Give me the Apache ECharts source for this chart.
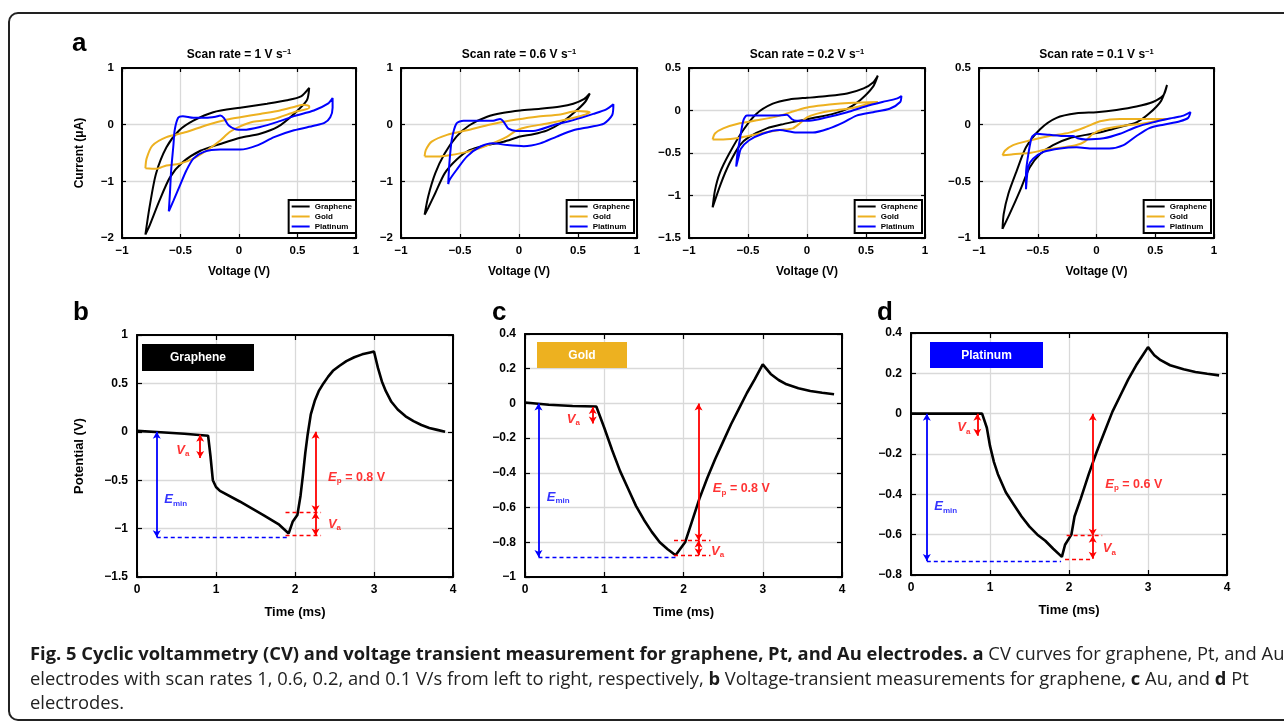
<!DOCTYPE html>
<html><head><meta charset="utf-8">
<script src="https://cdn.jsdelivr.net/npm/echarts@6/dist/echarts.min.js"></script>
<style>html,body{margin:0;padding:0;background:#fff}#c{width:1284px;height:727px}</style>
</head><body><div id="c"></div><script>
// ---------------- DATA ----------------
const seriesNames = ['Graphene', 'Gold', 'Platinum'];
const scanRates = ['1', '0.6', '0.2', '0.1'];
const cvYRanges = [[-2, 1, 1], [-2, 1, 1], [-1.5, 0.5, 0.5], [-1, 0.5, 0.5]];
const cvXRange = [-1, 1, 0.5];
const vtXRange = [0, 4, 1];
const vtYRanges = [[-1.5, 1, 0.5], [-1, 0.4, 0.2], [-0.8, 0.4, 0.2]];
const vtBoxNames = ['Graphene', 'Gold', 'Platinum'];
const epValues = ['0.8', '0.8', '0.6'];

const cv1Graphene = [[-0.8,-1.94],[-0.765,-1.46],[-0.71,-0.87],[-0.62,-0.4],[-0.51,-0.1],[-0.39,0.07],[-0.22,0.22],[0.01,0.3],[0.24,0.37],[0.41,0.43],[0.53,0.5],[0.6,0.65],[0.58,0.43],[0.47,0.19],[0.33,-0.04],[0.18,-0.16],[0.01,-0.23],[-0.16,-0.34],[-0.33,-0.46],[-0.48,-0.66],[-0.59,-0.93],[-0.68,-1.34],[-0.77,-1.81],[-0.8,-1.94]];
const cv1Gold = [[-0.8,-0.77],[-0.79,-0.6],[-0.74,-0.37],[-0.62,-0.22],[-0.45,-0.13],[-0.28,-0.01],[-0.1,0.09],[0.01,0.13],[0.18,0.19],[0.35,0.25],[0.5,0.33],[0.55,0.35],[0.6,0.33],[0.6,0.3],[0.47,0.22],[0.3,0.1],[0.12,0.05],[0.01,-0.03],[-0.08,-0.13],[-0.16,-0.28],[-0.28,-0.46],[-0.39,-0.6],[-0.51,-0.69],[-0.62,-0.72],[-0.71,-0.78],[-0.8,-0.77]];
const cv1Pt = [[-0.6,-1.53],[-0.59,-1.2],[-0.58,-0.81],[-0.56,-0.35],[-0.55,-0.1],[-0.52,0.12],[-0.48,0.15],[-0.39,0.12],[-0.28,0.12],[-0.2,0.14],[-0.16,0.16],[-0.13,0.12],[-0.09,-0.01],[-0.03,-0.08],[0.04,-0.09],[0.18,-0.04],[0.33,0.05],[0.47,0.15],[0.64,0.25],[0.76,0.37],[0.8,0.47],[0.8,0.3],[0.78,0.13],[0.73,0.03],[0.64,-0.02],[0.47,-0.1],[0.3,-0.22],[0.15,-0.37],[0.01,-0.44],[-0.16,-0.44],[-0.3,-0.48],[-0.39,-0.6],[-0.45,-0.81],[-0.5,-1.05],[-0.56,-1.34],[-0.6,-1.53]];

const cv2Graphene = [[-0.8,-1.59],[-0.77,-1.27],[-0.71,-0.86],[-0.63,-0.51],[-0.53,-0.21],[-0.42,-0.01],[-0.27,0.14],[-0.13,0.21],[0.01,0.25],[0.18,0.28],[0.35,0.32],[0.46,0.37],[0.55,0.45],[0.6,0.55],[0.56,0.4],[0.46,0.2],[0.35,0.02],[0.24,-0.1],[0.12,-0.17],[0.01,-0.21],[-0.13,-0.3],[-0.27,-0.36],[-0.42,-0.45],[-0.53,-0.62],[-0.63,-0.86],[-0.71,-1.21],[-0.77,-1.47],[-0.8,-1.59]];
const cv2Gold = [[-0.8,-0.56],[-0.79,-0.45],[-0.74,-0.3],[-0.61,-0.18],[-0.44,-0.1],[-0.27,-0.01],[-0.13,0.05],[-0.02,0.09],[0.15,0.14],[0.35,0.18],[0.49,0.24],[0.6,0.22],[0.55,0.17],[0.4,0.09],[0.24,0.02],[0.07,-0.04],[-0.02,-0.1],[-0.1,-0.21],[-0.19,-0.3],[-0.3,-0.39],[-0.44,-0.48],[-0.59,-0.54],[-0.67,-0.56],[-0.8,-0.56]];
const cv2Pt = [[-0.6,-1.05],[-0.59,-0.68],[-0.57,-0.27],[-0.53,0.02],[-0.47,0.07],[-0.33,0.07],[-0.22,0.07],[-0.16,0.1],[-0.13,0.05],[-0.09,-0.07],[-0.02,-0.11],[0.12,-0.11],[0.29,-0.01],[0.46,0.08],[0.63,0.19],[0.74,0.27],[0.8,0.36],[0.79,0.17],[0.72,0.02],[0.6,-0.04],[0.46,-0.1],[0.32,-0.21],[0.18,-0.33],[0.04,-0.38],[-0.1,-0.36],[-0.22,-0.33],[-0.33,-0.39],[-0.44,-0.56],[-0.53,-0.8],[-0.59,-0.98],[-0.6,-1.05]];

const cv3Graphene = [[-0.8,-1.14],[-0.78,-0.94],[-0.74,-0.74],[-0.66,-0.51],[-0.54,-0.23],[-0.43,-0.04],[-0.29,0.08],[-0.15,0.13],[0,0.15],[0.17,0.17],[0.34,0.2],[0.48,0.26],[0.56,0.33],[0.6,0.41],[0.56,0.28],[0.45,0.12],[0.34,0.02],[0.22,-0.04],[0.08,-0.08],[-0.06,-0.12],[-0.2,-0.16],[-0.34,-0.21],[-0.49,-0.31],[-0.57,-0.41],[-0.66,-0.63],[-0.73,-0.86],[-0.8,-1.14]];
const cv3Gold = [[-0.8,-0.34],[-0.78,-0.27],[-0.71,-0.21],[-0.57,-0.15],[-0.4,-0.11],[-0.23,-0.06],[-0.09,0],[0.02,0.04],[0.19,0.07],[0.39,0.09],[0.6,0.1],[0.53,0.08],[0.39,0.03],[0.22,0],[0.08,-0.04],[0,-0.08],[-0.06,-0.15],[-0.12,-0.21],[-0.23,-0.23],[-0.4,-0.27],[-0.57,-0.32],[-0.71,-0.34],[-0.8,-0.34]];
const cv3Pt = [[-0.6,-0.66],[-0.59,-0.51],[-0.57,-0.35],[-0.54,-0.12],[-0.51,-0.06],[-0.4,-0.06],[-0.26,-0.06],[-0.17,-0.05],[-0.13,-0.1],[-0.09,-0.12],[0.02,-0.12],[0.17,-0.08],[0.34,-0.02],[0.5,0.05],[0.67,0.11],[0.76,0.14],[0.8,0.17],[0.79,0.1],[0.7,0.02],[0.56,-0.02],[0.42,-0.06],[0.31,-0.14],[0.19,-0.21],[0.05,-0.26],[-0.09,-0.26],[-0.23,-0.23],[-0.37,-0.27],[-0.49,-0.35],[-0.56,-0.45],[-0.58,-0.55],[-0.6,-0.66]];

const cv4Graphene = [[-0.8,-0.92],[-0.79,-0.79],[-0.75,-0.61],[-0.68,-0.41],[-0.6,-0.2],[-0.48,-0.04],[-0.34,0.06],[-0.17,0.1],[0,0.11],[0.17,0.13],[0.34,0.16],[0.48,0.2],[0.57,0.26],[0.6,0.35],[0.55,0.21],[0.45,0.1],[0.34,0.02],[0.2,-0.02],[0.06,-0.06],[-0.09,-0.09],[-0.23,-0.12],[-0.37,-0.18],[-0.48,-0.26],[-0.57,-0.38],[-0.65,-0.58],[-0.74,-0.79],[-0.8,-0.92]];
const cv4Gold = [[-0.8,-0.27],[-0.78,-0.23],[-0.71,-0.18],[-0.57,-0.14],[-0.4,-0.1],[-0.23,-0.07],[-0.09,-0.02],[0.03,0.03],[0.2,0.05],[0.4,0.05],[0.6,0.05],[0.54,0.04],[0.4,0.01],[0.23,-0.01],[0.06,-0.04],[-0.03,-0.08],[-0.1,-0.15],[-0.17,-0.18],[-0.28,-0.2],[-0.43,-0.22],[-0.57,-0.25],[-0.71,-0.26],[-0.8,-0.27]];
const cv4Pt = [[-0.6,-0.57],[-0.6,-0.43],[-0.58,-0.26],[-0.55,-0.11],[-0.51,-0.08],[-0.4,-0.09],[-0.26,-0.1],[-0.2,-0.1],[-0.16,-0.12],[-0.09,-0.13],[0.06,-0.12],[0.2,-0.08],[0.34,-0.02],[0.48,0.02],[0.65,0.06],[0.74,0.08],[0.8,0.11],[0.78,0.06],[0.71,0.03],[0.57,0],[0.45,-0.03],[0.34,-0.1],[0.23,-0.18],[0.11,-0.21],[-0.03,-0.21],[-0.17,-0.2],[-0.31,-0.21],[-0.45,-0.24],[-0.54,-0.3],[-0.58,-0.37],[-0.6,-0.57]];

const vtGraphene = [[0,0.01],[0.3,-0.005],[0.6,-0.02],[0.9,-0.04],[0.93,-0.25],[0.96,-0.5],[1.0,-0.57],[1.05,-0.61],[1.3,-0.72],[1.6,-0.86],[1.8,-0.96],[1.92,-1.05],[1.97,-0.93],[2.03,-0.86],[2.07,-0.66],[2.1,-0.45],[2.13,-0.22],[2.16,-0.03],[2.2,0.18],[2.25,0.32],[2.3,0.42],[2.36,0.5],[2.42,0.57],[2.48,0.63],[2.56,0.68],[2.65,0.73],[2.75,0.77],[2.85,0.8],[2.95,0.82],[3.0,0.83],[3.05,0.66],[3.1,0.52],[3.15,0.42],[3.22,0.31],[3.3,0.23],[3.4,0.16],[3.5,0.11],[3.6,0.07],[3.7,0.04],[3.8,0.02],[3.9,0.0]];
const vtGold = [[0,0.005],[0.3,-0.008],[0.6,-0.015],[0.9,-0.018],[1.0,-0.14],[1.1,-0.27],[1.2,-0.39],[1.3,-0.49],[1.4,-0.59],[1.5,-0.67],[1.6,-0.74],[1.7,-0.8],[1.8,-0.84],[1.9,-0.875],[2.02,-0.8],[2.1,-0.69],[2.2,-0.55],[2.3,-0.43],[2.4,-0.32],[2.5,-0.22],[2.6,-0.12],[2.7,-0.03],[2.8,0.06],[2.9,0.14],[3.0,0.225],[3.1,0.17],[3.2,0.135],[3.3,0.11],[3.45,0.088],[3.6,0.072],[3.75,0.062],[3.9,0.053]];
const vtPt = [[0,0],[0.9,0],[0.92,0],[0.96,-0.07],[1.0,-0.16],[1.05,-0.24],[1.1,-0.3],[1.2,-0.39],[1.3,-0.45],[1.4,-0.51],[1.5,-0.56],[1.6,-0.6],[1.7,-0.63],[1.8,-0.67],[1.91,-0.71],[1.95,-0.65],[2.03,-0.6],[2.07,-0.51],[2.15,-0.42],[2.25,-0.3],[2.35,-0.19],[2.45,-0.09],[2.55,0.01],[2.65,0.09],[2.75,0.17],[2.85,0.24],[2.95,0.3],[3.0,0.33],[3.08,0.29],[3.16,0.265],[3.28,0.24],[3.45,0.22],[3.6,0.207],[3.75,0.198],[3.9,0.19]];

// annotation values: arrows [t, from, to] (first = E_min, then V_a, E_p, V_a)
const bArrows = [[0.25,0,-1.09],[0.8,-0.03,-0.27],[2.26,0,-0.83],[2.26,-0.83,-1.07]];
const bDashes = [[0.25,1.92,-1.09],[1.88,2.33,-0.83],[1.88,2.33,-1.07]];
const bLabels = [[0.58,-0.19],[0.49,-0.70],[2.78,-0.47],[2.5,-0.955]];
const cArrows = [[0.17,0,-0.885],[0.855,-0.02,-0.115],[2.19,0,-0.79],[2.19,-0.79,-0.875]];
const cDashes = [[0.17,1.9,-0.885],[1.88,2.34,-0.79],[1.88,2.34,-0.875]];
const cLabels = [[0.61,-0.09],[0.42,-0.54],[2.73,-0.49],[2.43,-0.85]];
const dArrows = [[0.2,0,-0.73],[0.84,0,-0.11],[2.3,0,-0.605],[2.3,-0.605,-0.72]];
const dDashes = [[0.2,1.9,-0.73],[1.97,2.42,-0.605],[1.95,2.29,-0.72]];
const dLabels = [[0.67,-0.07],[0.44,-0.46],[2.82,-0.35],[2.51,-0.67]];

// ---------------- STYLE / LAYOUT ----------------
const FONT = '"Liberation Sans", Arial, Helvetica, sans-serif';
const CAPF = '"Open Sans", sans-serif';
const COLORS = ['#000000', '#EDB120', '#0000FF'];
const RED = '#FF0000', BLUE = '#0000FF';
const boxColors = ['#000000', '#EDB120', '#0000FF'];

const cvGrids = [
  {left:122, top:68, width:234, height:170},
  {left:401, top:68, width:236, height:170},
  {left:689, top:68, width:236, height:170},
  {left:979, top:68, width:235, height:170}
];
const vtGrids = [
  {left:137, top:335, width:316, height:242},
  {left:525, top:334, width:317, height:243},
  {left:911, top:333, width:316, height:242}
];
const legendRight = [356, 634, 922, 1211];
const vtBoxes = [[142,344,112,27],[537,342,90,26],[930,342,113,26]];

function fmt(v) {
  const r = Math.round(v * 1000) / 1000;
  return r < 0 ? '\u2212' + Math.abs(r) : String(r);
}

const xAxes = [], yAxes = [];
function addAxes(gi, xr, yr, opt) {
  const mk = (dim, r, main) => {
    const a = {
      gridIndex: gi, type: 'value', min: r[0], max: r[1], interval: r[2],
      position: dim === 'x' ? (main ? 'bottom' : 'top') : (main ? 'left' : 'right'),
      axisLine: {show: true, onZero: false, lineStyle: {color: '#000', width: 2}},
      axisTick: {show: true, inside: true, length: opt.tick, lineStyle: {color: '#000', width: 1.2}},
      axisLabel: {show: main, formatter: fmt, color: '#000', fontFamily: FONT, fontWeight: 'bold',
        fontSize: opt.fs, margin: dim === 'x' ? opt.xm : opt.ym, showMinLabel: true, showMaxLabel: true},
      splitLine: {show: main, lineStyle: {color: '#d9d9d9', width: 1.3}}
    };
    if (main) {
      const nm = dim === 'x' ? opt.xName : opt.yName;
      if (nm) {
        a.name = nm; a.nameLocation = 'middle';
        a.nameGap = dim === 'x' ? opt.xGap : opt.yGap;
        a.nameTextStyle = {color: '#000', fontFamily: FONT, fontWeight: 'bold', fontSize: opt.nfs};
        if (dim === 'y') a.nameRotate = 90;
      }
    }
    return a;
  };
  xAxes.push(mk('x', xr, true)); xAxes.push(mk('x', xr, false));
  yAxes.push(mk('y', yr, true)); yAxes.push(mk('y', yr, false));
}

const grids = [];
cvGrids.forEach((g, i) => {
  grids.push(Object.assign({containLabel: false}, g));
  addAxes(i, cvXRange, cvYRanges[i], {tick: 4, fs: 11.5, xm: 7, ym: 8, xName: 'Voltage (V)', xGap: 28,
    yName: i === 0 ? 'Current (\u03bcA)' : '', yGap: 36, nfs: 12});
});
vtGrids.forEach((g, i) => {
  grids.push(Object.assign({containLabel: false}, g));
  addAxes(4 + i, vtXRange, vtYRanges[i], {tick: 5, fs: 12, xm: 7, ym: 9, xName: 'Time (ms)', xGap: 29,
    yName: i === 0 ? 'Potential (V)' : '', yGap: 51, nfs: 13});
});

const series = [];
const cvSets = [[cv1Graphene, cv1Gold, cv1Pt], [cv2Graphene, cv2Gold, cv2Pt], [cv3Graphene, cv3Gold, cv3Pt], [cv4Graphene, cv4Gold, cv4Pt]];
cvSets.forEach((set, gi) => {
  set.forEach((d, k) => {
    series.push({type: 'line', name: seriesNames[k], xAxisIndex: 2 * gi, yAxisIndex: 2 * gi, data: d,
      symbol: 'none', showSymbol: false, smooth: 0.25, silent: true,
      lineStyle: {color: COLORS[k], width: 2}, itemStyle: {color: COLORS[k]}, z: 3});
  });
});

const RICH = {
  ri: {color: RED, fontStyle: 'italic', fontWeight: 'bold', fontSize: 13, fontFamily: FONT, lineHeight: 16},
  rs: {color: RED, fontWeight: 'bold', fontSize: 8, fontFamily: FONT, lineHeight: 9, verticalAlign: 'bottom'},
  rn: {color: RED, fontWeight: 'bold', fontSize: 12.5, fontFamily: FONT, lineHeight: 16},
  bi: {color: BLUE, fontStyle: 'italic', fontWeight: 'bold', fontSize: 13, fontFamily: FONT, lineHeight: 16},
  bs: {color: BLUE, fontWeight: 'bold', fontSize: 8, fontFamily: FONT, lineHeight: 9, verticalAlign: 'bottom'}
};

function markData(arrows, dashes) {
  const out = [];
  arrows.forEach((a, i) => {
    const ls = {color: i === 0 ? BLUE : RED, width: 1.8, type: 'solid'};
    out.push([{coord: [a[0], a[1]], symbol: 'arrow', lineStyle: ls}, {coord: [a[0], a[2]], symbol: 'arrow', lineStyle: ls}]);
  });
  dashes.forEach((d, i) => {
    const ls = {color: i === 0 ? BLUE : RED, width: 1.3, type: [4, 3]};
    out.push([{coord: [d[0], d[2]], symbol: 'none', lineStyle: ls}, {coord: [d[1], d[2]], symbol: 'none', lineStyle: ls}]);
  });
  return out;
}

const vtSets = [vtGraphene, vtGold, vtPt];
const arrowSets = [bArrows, cArrows, dArrows];
const dashSets = [bDashes, cDashes, dDashes];
const labelSets = [bLabels, cLabels, dLabels];
vtSets.forEach((d, i) => {
  const ax = 8 + 2 * i;
  series.push({type: 'line', name: 'vt' + i, xAxisIndex: ax, yAxisIndex: ax, data: d, symbol: 'none', silent: true,
    lineStyle: {color: '#000', width: 2.6}, z: 3,
    markLine: {silent: true, symbolSize: [6, 7], label: {show: false}, emphasis: {disabled: true},
      data: markData(arrowSets[i], dashSets[i])}});
  const fm = ['{ri|V}{rs|a}', '{bi|E}{bs|min}', '{ri|E}{rs|p}{rn| = ' + epValues[i] + ' V}', '{ri|V}{rs|a}'];
  series.push({type: 'scatter', name: 'lab' + i, xAxisIndex: ax, yAxisIndex: ax, symbolSize: 1, silent: true, z: 6,
    itemStyle: {color: 'rgba(0,0,0,0)'},
    label: {show: true, position: 'inside', rich: RICH},
    data: labelSets[i].map((p, k) => ({value: p, label: {show: true, position: 'inside', formatter: fm[k], rich: RICH}}))});
});

const legends = cvGrids.map((g, i) => ({
  data: seriesNames, orient: 'vertical', right: 1284 - legendRight[i], bottom: 727 - 233,
  icon: 'rect', itemWidth: 18, itemHeight: 2, itemGap: 1, padding: [2, 4, 2, 3],
  borderColor: '#000', borderWidth: 2, backgroundColor: '#fff', selectedMode: false,
  textStyle: {fontSize: 8, fontWeight: 'bold', fontFamily: FONT, color: '#000', lineHeight: 9}
}));

// ---------------- GRAPHIC ----------------
const graphic = [];
graphic.push({type: 'rect', silent: true, z: -10, shape: {x: 9, y: 13, width: 1300, height: 707, r: 9},
  style: {fill: 'none', stroke: '#222', lineWidth: 2}});
cvGrids.forEach((g, i) => {
  graphic.push({type: 'text', silent: true, x: g.left + g.width / 2, y: 55, style: {
    text: '{m|Scan rate = ' + scanRates[i] + ' V s}{s|\u22121}', align: 'center', verticalAlign: 'middle',
    rich: {m: {fontSize: 12, fontWeight: 'bold', fontFamily: FONT, fill: '#000', lineHeight: 14},
           s: {fontSize: 7.5, fontWeight: 'bold', fontFamily: FONT, fill: '#000', verticalAlign: 'top', lineHeight: 9}}}});
});
[['a', 72, 44], ['b', 73, 313], ['c', 492, 313], ['d', 877, 313]].forEach(l => {
  graphic.push({type: 'text', silent: true, x: l[1], y: l[2], style: {text: l[0], fontSize: 26, fontWeight: 'bold',
    fontFamily: FONT, fill: '#000', align: 'left', verticalAlign: 'middle'}});
});
vtBoxes.forEach((b, i) => {
  graphic.push({type: 'rect', silent: true, z: 5, shape: {x: b[0], y: b[1], width: b[2], height: b[3]}, style: {fill: boxColors[i]}});
  graphic.push({type: 'text', silent: true, z: 6, x: b[0] + b[2] / 2, y: b[1] + b[3] / 2 + 0.5, style: {text: vtBoxNames[i],
    fontSize: 12, fontWeight: 'bold', fontFamily: FONT, fill: '#fff', align: 'center', verticalAlign: 'middle'}});
});

// caption
const capLine1 = [['Fig. 5 Cyclic voltammetry (CV) and voltage transient measurement for graphene, Pt, and Au electrodes. a', true], [' CV curves for graphene, Pt, and Au', false]];
const capLine2 = [['electrodes with scan rates 1, 0.6, 0.2, and 0.1 V/s from left to right, respectively, ', false], ['b', true],
  [' Voltage-transient measurements for graphene, ', false], ['c', true], [' Au, and ', false], ['d', true], [' Pt', false]];
const capLine3 = [['electrodes.', false]];
const ctx = document.createElement('canvas').getContext('2d');
function segWidth(segs, size) {
  let w = 0;
  segs.forEach(s => { ctx.font = (s[1] ? 'bold ' : '') + size + 'px ' + CAPF; w += ctx.measureText(s[0]).width; });
  return w;
}
const capSize = 16 * ((1231 / segWidth(capLine2, 16)) + (1244 / segWidth(capLine1, 16))) / 2;
const capRich = {
  b: {fontWeight: 'bold', fontSize: capSize, fontFamily: CAPF, fill: '#1a1a1a'},
  r: {fontWeight: 'normal', fontSize: capSize, fontFamily: CAPF, fill: '#222'}
};
[[capLine1, 655], [capLine2, 680], [capLine3, 704]].forEach(l => {
  graphic.push({type: 'text', silent: true, x: 30, y: l[1], style: {
    text: l[0].map(s => '{' + (s[1] ? 'b' : 'r') + '|' + s[0] + '}').join(''),
    rich: capRich, align: 'left', verticalAlign: 'middle'}});
});

const chart = echarts.init(document.getElementById('c'), null, {renderer: 'canvas'});
chart.setOption({
  animation: false,
  backgroundColor: '#fff',
  textStyle: {fontFamily: FONT},
  grid: grids,
  xAxis: xAxes,
  yAxis: yAxes,
  legend: legends,
  series: series,
  graphic: graphic
});
</script></body></html>
